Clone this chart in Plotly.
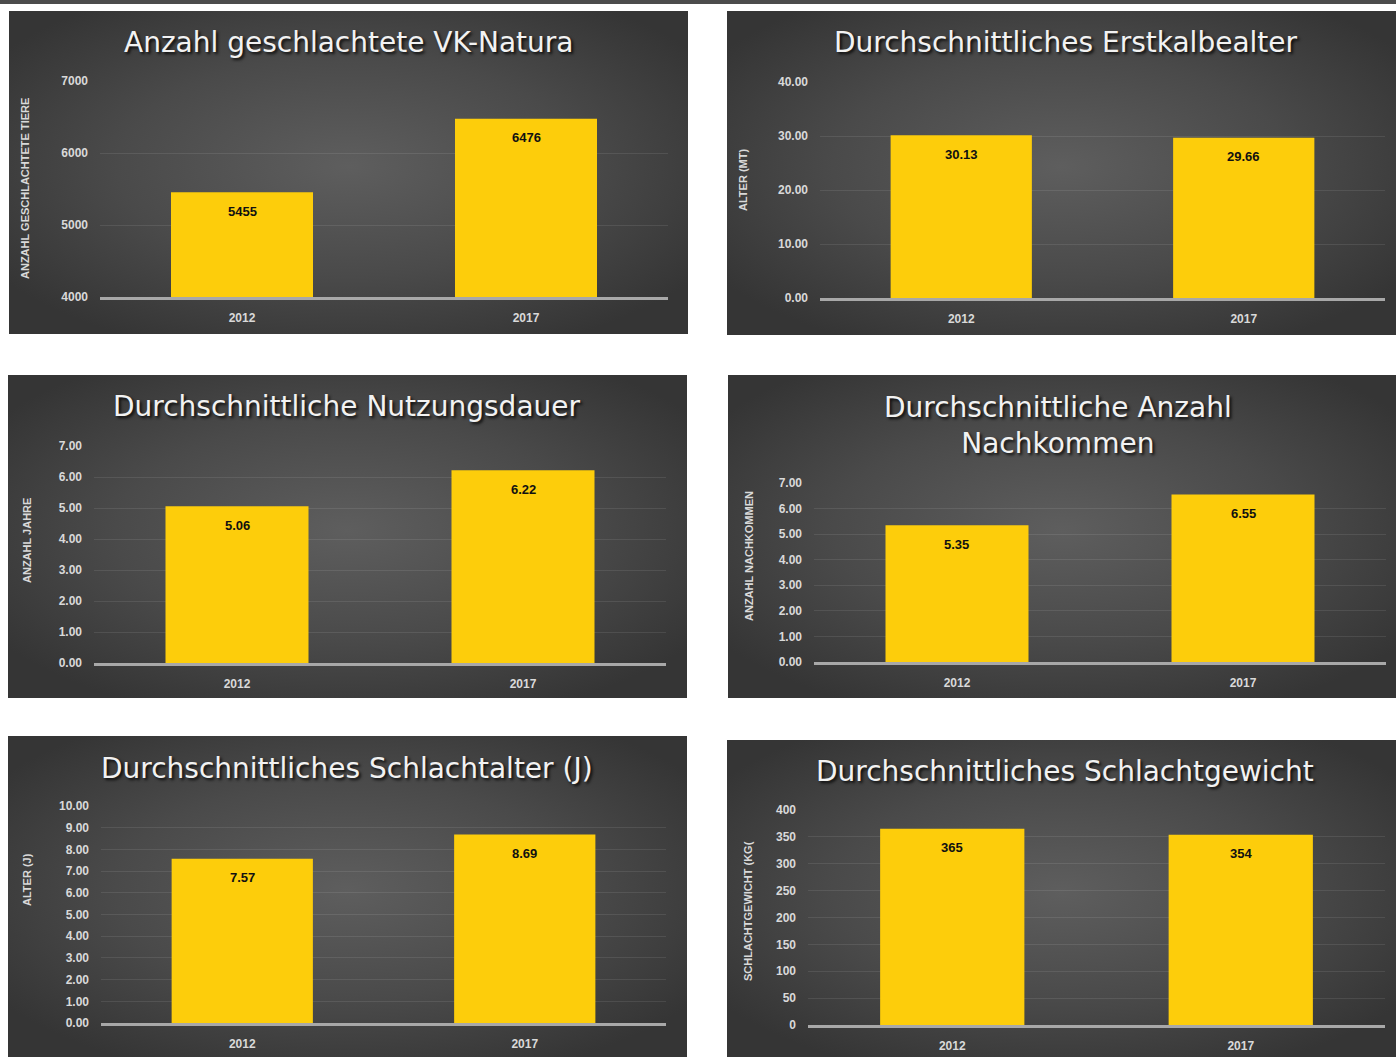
import base64
import plotly.graph_objects as go

# ---------------- data ----------------
years = ["2012", "2017"]
geschlachtet = [5455, 6476]
erstkalbealter = [30.13, 29.66]
nutzungsdauer = [5.06, 6.22]
nachkommen = [5.35, 6.55]
schlachtalter = [7.57, 8.69]
schlachtgewicht = [365, 354]

titles = [
    "Anzahl geschlachtete VK-Natura",
    "Durchschnittliches Erstkalbealter",
    "Durchschnittliche Nutzungsdauer",
    "Durchschnittliche Anzahl<br>Nachkommen",
    "Durchschnittliches Schlachtalter (J)",
    "Durchschnittliches Schlachtgewicht",
]
axis_titles = [
    "ANZAHL GESCHLACHTETE TIERE",
    "ALTER (MT)",
    "ANZAHL JAHRE",
    "ANZAHL NACHKOMMEN",
    "ALTER (J)",
    "SCHLACHTGEWICHT (KG(",
]
series = [geschlachtet, erstkalbealter, nutzungsdauer, nachkommen, schlachtalter, schlachtgewicht]
label_text = [
    [f"{v:d}" for v in geschlachtet],
    [f"{v:.2f}" for v in erstkalbealter],
    [f"{v:.2f}" for v in nutzungsdauer],
    [f"{v:.2f}" for v in nachkommen],
    [f"{v:.2f}" for v in schlachtalter],
    [f"{v:d}" for v in schlachtgewicht],
]
y_ranges = [[4000, 7000], [0, 40], [0, 7], [0, 7], [0, 10], [0, 400]]
y_dticks = [1000, 10, 1, 1, 1, 50]
y_formats = ["d", ".2f", ".2f", ".2f", ".2f", "d"]

# ---------------- layout (pixels) ----------------
W, H = 1396, 1057
panels = [  # panel rect x0,y0,x1,y1 ; plot rect left,top,right,bottom ; title cx,cy ; axis title x,cy
    dict(panel=(9, 11, 688, 334), plot=(100, 81, 668, 297), title=(348, 43), atitle=(25, 189)),
    dict(panel=(727, 11, 1396, 335), plot=(820, 82, 1385, 298), title=(1066, 43), atitle=(743, 180)),
    dict(panel=(8, 375, 687, 698), plot=(94, 446, 666, 663), title=(347, 407), atitle=(27, 541)),
    dict(panel=(728, 375, 1396, 698), plot=(814, 483, 1386, 662), title=(1058, 425), atitle=(749, 556)),
    dict(panel=(8, 736, 687, 1057), plot=(101, 806, 666, 1023), title=(347, 768), atitle=(27, 880)),
    dict(panel=(727, 740, 1396, 1057), plot=(808, 810, 1385, 1025), title=(1065, 771), atitle=(748, 911)),
]

def px(x):
    return x / W

def py(y):
    return 1 - y / H

svg = (
    "<svg xmlns='http://www.w3.org/2000/svg' width='100' height='100' viewBox='0 0 100 100' "
    "preserveAspectRatio='none'><defs><radialGradient id='g' cx='50%' cy='48%' r='62%'>"
    "<stop offset='0' stop-color='#5e5e5e'/><stop offset='0.55' stop-color='#4a4a4a'/>"
    "<stop offset='1' stop-color='#353535'/></radialGradient></defs>"
    "<rect width='100' height='100' fill='url(#g)'/></svg>"
)
bg_src = "data:image/svg+xml;base64," + base64.b64encode(svg.encode()).decode()

TICK_FONT = "Liberation Sans Narrow, Arial Narrow, Liberation Sans, sans-serif"
TITLE_FONT = "DejaVu Sans, Verdana, sans-serif"
BAR_COLOR = "#FDCD0B"

fig = go.Figure()
images, annotations = [], []
layout_axes = {}

for i, p in enumerate(panels):
    n = i + 1
    xa = "x" if n == 1 else f"x{n}"
    ya = "y" if n == 1 else f"y{n}"
    fig.add_trace(go.Bar(
        x=years, y=series[i], xaxis=xa, yaxis=ya,
        marker=dict(color=BAR_COLOR, line=dict(width=0)),
        showlegend=False, hoverinfo="x+y",
    ))
    l, t, r, b = p["plot"]
    layout_axes["xaxis" if n == 1 else f"xaxis{n}"] = dict(
        type="category", categoryorder="array", categoryarray=years,
        range=[-0.5, len(years) - 0.5], autorange=False, automargin=False,
        domain=[px(l), px(r)], anchor=ya,
        showgrid=False, showline=True, linecolor="#a8a8a8", linewidth=2.5,
        ticks="", ticklabelstandoff=8,
        tickfont=dict(family=TICK_FONT, size=12, color="#d9d9d9", weight="bold"),
        fixedrange=True,
    )
    layout_axes["yaxis" if n == 1 else f"yaxis{n}"] = dict(
        domain=[py(b), py(t)], anchor=xa, automargin=False,
        range=y_ranges[i], autorange=False, dtick=y_dticks[i], tick0=y_ranges[i][0],
        tickformat=y_formats[i],
        showgrid=True, gridcolor="rgba(255,255,255,0.09)", gridwidth=1,
        zeroline=False, showline=False, ticks="", ticklabelstandoff=11,
        tickfont=dict(family=TICK_FONT, size=12, color="#d9d9d9", weight="bold"),
        fixedrange=True,
    )
    x0, y0, x1, y1 = p["panel"]
    images.append(dict(
        source=bg_src, xref="paper", yref="paper", x=px(x0), y=py(y0),
        sizex=px(x1) - px(x0), sizey=py(y0) - py(y1), sizing="stretch",
        xanchor="left", yanchor="top", layer="below",
    ))
    tx, ty = p["title"]
    annotations.append(dict(
        text=titles[i], xref="paper", yref="paper", x=px(tx), y=py(ty),
        xanchor="center", yanchor="middle", showarrow=False,
        font=dict(family=TITLE_FONT, size=28, color="#f2f2f2",
                  shadow="2px 2px 3px rgba(0,0,0,0.85)"),
    ))
    ax_, ay_ = p["atitle"]
    annotations.append(dict(
        text=axis_titles[i], xref="paper", yref="paper", x=px(ax_), y=py(ay_),
        xanchor="center", yanchor="middle", showarrow=False, textangle=-90,
        font=dict(family=TICK_FONT, size=11, color="#d9d9d9", weight="bold"),
    ))
    for j, (v, lab) in enumerate(zip(series[i], label_text[i])):
        annotations.append(dict(
            text=lab, x=j, y=v, xref=xa, yref=ya, yshift=-19,
            xanchor="center", yanchor="middle", showarrow=False,
            font=dict(family=TICK_FONT, size=13, color="#111111", weight="bold"),
        ))

fig.update_layout(
    width=W, height=H, autosize=False,
    margin=dict(l=0, r=0, t=0, b=0, pad=0, autoexpand=False),
    paper_bgcolor="white", plot_bgcolor="rgba(0,0,0,0)",
    bargap=0.5, images=images, annotations=annotations,
    shapes=[dict(type="rect", xref="paper", yref="paper", x0=0, x1=1, y0=py(4), y1=1,
                 fillcolor="#4c4c4c", line=dict(width=0), layer="below")],
    **layout_axes,
)

fig.write_html(
    "out.html",
    post_script=(
        "document.documentElement.style.margin='0px';"
        "document.body.style.margin='0px';document.body.style.padding='0px';"
        "document.body.style.overflow='hidden';"
        "var gd=document.getElementById('{plot_id}');"
        "gd.style.position='fixed';gd.style.top='0px';gd.style.left='0px';"
    ),
)
